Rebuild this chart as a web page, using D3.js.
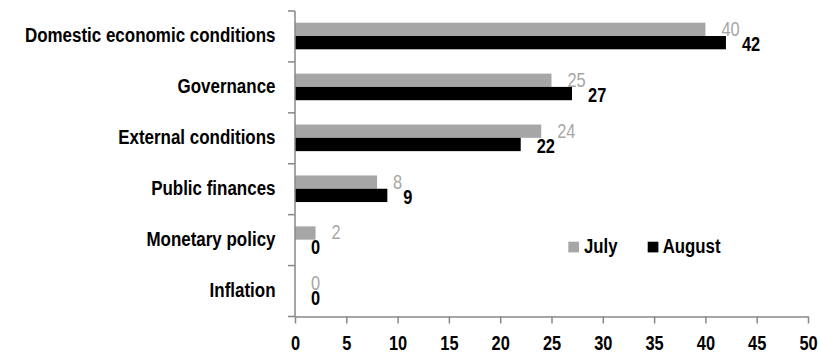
<!DOCTYPE html>
<html>
<head>
<meta charset="utf-8">
<script src="https://cdn.jsdelivr.net/npm/d3@7"></script>
<style>
  html, body { margin: 0; padding: 0; background: #fff; }
  svg { display: block; }
</style>
</head>
<body>
<svg id="chart" width="820" height="357"></svg>
<script>
const categories = ["Domestic economic conditions", "Governance", "External conditions", "Public finances", "Monetary policy", "Inflation"];
const seriesNames = ["July", "August"];
const julyValues = [40, 25, 24, 8, 2, 0];
const augustValues = [42, 27, 22, 9, 0, 0];
const xTicks = [0, 5, 10, 15, 20, 25, 30, 35, 40, 45, 50];

const colors = { July: "#a6a6a6", August: "#000000" };
const axisColor = "#878787";
const font = "'Liberation Sans', Arial, sans-serif";
const NARROW = 0.82; // emulate Arial Narrow

const svg = d3.select("#chart");

function narrowText(parent, px, py, txt, size, weight, fill, anchor) {
  return parent.append("text")
    .attr("transform", `translate(${px},${py}) scale(${NARROW},1)`)
    .attr("font-family", font).attr("font-size", size).attr("font-weight", weight)
    .attr("fill", fill).attr("text-anchor", anchor || "start")
    .text(txt);
}

const x = d3.scaleLinear().domain([0, 50]).range([295, 808]);
const y = d3.scaleBand().domain(categories).range([11, 316.5]).padding(0);
const inner = d3.scaleBand().domain(seriesNames).range([11.7, 38.3]).padding(0);

const rows = categories.map((c, i) => ({ cat: c, July: julyValues[i], August: augustValues[i] }));

// bars
const g = svg.append("g");
seriesNames.forEach(s => {
  g.selectAll("rect." + s).data(rows).enter().append("rect")
    .attr("class", s)
    .attr("x", x(0))
    .attr("y", d => y(d.cat) + inner(s))
    .attr("width", d => x(d[s]) - x(0))
    .attr("height", inner.bandwidth())
    .attr("fill", colors[s]);
});

// data labels
rows.forEach(d => {
  narrowText(g, x(d.July) + 16, y(d.cat) + inner("July") + inner.bandwidth() - 0.2,
    d.July, 20, "normal", colors.July);
  narrowText(g, x(d.August) + 16, y(d.cat) + inner("August") + inner.bandwidth() + 1.5,
    d.August, 20, "bold", colors.August);
});

// y axis
const yAxisG = svg.append("g");
yAxisG.append("line")
  .attr("x1", x(0)).attr("x2", x(0))
  .attr("y1", y.range()[0]).attr("y2", y.range()[1])
  .attr("stroke", axisColor).attr("stroke-width", 1.5);
const boundaries = categories.map(c => y(c)).concat([y.range()[1]]);
yAxisG.selectAll("line.tick").data(boundaries).enter().append("line")
  .attr("x1", x(0) - 7).attr("x2", x(0))
  .attr("y1", d => d).attr("y2", d => d)
  .attr("stroke", axisColor).attr("stroke-width", 1.5);
categories.forEach(c => {
  narrowText(yAxisG, 275.5, y(c) + y.bandwidth() / 2 + 5.8, c, 20.7, "bold", "#000", "end");
});

// x axis
const xAxis = d3.axisBottom(x).tickValues(xTicks).tickSize(7).tickSizeOuter(0).tickFormat(d3.format("d"));
const xg = svg.append("g").attr("transform", `translate(0,${y.range()[1]})`).call(xAxis);
xg.select(".domain").attr("stroke", axisColor).attr("stroke-width", 1.5);
xg.selectAll(".tick line").attr("stroke", axisColor).attr("stroke-width", 1.5);
xg.selectAll(".tick text")
  .attr("y", 19).attr("dy", "0.71em")
  .attr("transform", `scale(${NARROW},1)`)
  .attr("font-family", font).attr("font-size", 20).attr("font-weight", "bold")
  .attr("fill", "#000");

// legend
const legend = svg.append("g");
const legendItems = [{ name: "July", sx: 568.3, tx: 584 }, { name: "August", sx: 647.7, tx: 662.7 }];
legendItems.forEach(it => {
  legend.append("rect").attr("x", it.sx).attr("y", 241.7).attr("width", 10.7).attr("height", 10.7)
    .attr("fill", colors[it.name]);
  narrowText(legend, it.tx, 253.3, it.name, 20.5, "bold", "#000");
});
</script>
</body>
</html>
